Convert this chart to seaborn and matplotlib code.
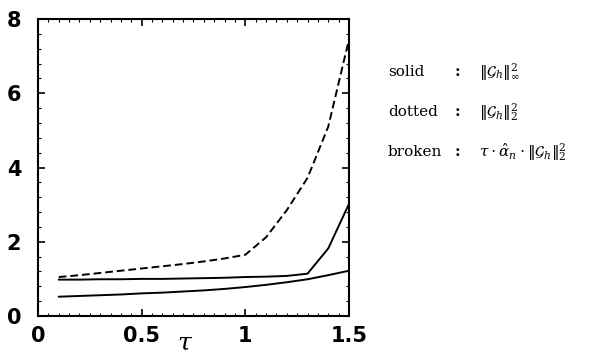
import numpy as np
import pandas as pd
import matplotlib
matplotlib.use("Agg")
import matplotlib.pyplot as plt
import seaborn as sns
from matplotlib.ticker import MultipleLocator

tau = [0.1, 0.2, 0.3, 0.4, 0.5, 0.6, 0.7, 0.8, 0.9, 1.0, 1.1, 1.2, 1.3, 1.4, 1.5]
solid_inf = [0.98, 0.98, 0.99, 0.99, 1.0, 1.0, 1.01, 1.02, 1.03, 1.05, 1.06, 1.08, 1.14, 1.82, 3.02]
dotted_l2 = [0.52, 0.54, 0.56, 0.58, 0.61, 0.63, 0.66, 0.69, 0.73, 0.78, 0.84, 0.91, 0.99, 1.1, 1.22]
broken = [1.05, 1.1, 1.16, 1.22, 1.28, 1.34, 1.4, 1.47, 1.55, 1.65, 2.12, 2.85, 3.72, 5.1, 7.45]

df = pd.DataFrame({
    "tau": tau * 3,
    "value": solid_inf + dotted_l2 + broken,
    "series": ["solid"] * len(tau) + ["dotted"] * len(tau) + ["broken"] * len(tau),
})

sns.set_theme(style="ticks")
plt.rcParams["font.family"] = ["DejaVu Sans"]
plt.rcParams["mathtext.fontset"] = "dejavuserif"

fig = plt.figure(figsize=(5.99, 3.57), dpi=100)
ax = fig.add_axes([0.0634, 0.1148, 0.5192, 0.832])

sns.lineplot(data=df, x="tau", y="value", hue="series", style="series",
             palette={"solid": "black", "dotted": "black", "broken": "black"},
             dashes={"solid": "", "dotted": "", "broken": (4, 2)},
             linewidth=1.4, legend=False, ax=ax)

ax.set_xlim(0, 1.5)
ax.set_ylim(0, 8)
ax.set_xticks([0, 0.5, 1, 1.5])
ax.set_xticklabels(["0", "0.5", "1", "1.5"])
ax.set_yticks([0, 2, 4, 6, 8])
ax.xaxis.set_minor_locator(MultipleLocator(0.05))
ax.yaxis.set_minor_locator(MultipleLocator(0.4))
ax.tick_params(which="both", direction="in", top=True, right=True, color="black",
               labelcolor="black")
ax.tick_params(which="major", length=5, width=1.2, labelsize=15)
ax.tick_params(axis="y", which="major", pad=12)
ax.tick_params(axis="x", which="major", pad=7)
for lab in ax.get_xticklabels() + ax.get_yticklabels():
    lab.set_fontweight("bold")
ax.tick_params(which="minor", length=2.5, width=0.8)
for s in ax.spines.values():
    s.set_linewidth(1.5)
    s.set_color("black")
ax.set_xlabel("")
ax.set_ylabel("")
fig.text(185 / 599, 1 - 343 / 357, r"$\tau$", fontsize=18, ha="center", va="center",
         color="black")

names = ["solid", "dotted", "broken"]
formulas = [r"$\|\mathcal{G}_h\|_\infty^2$",
            r"$\|\mathcal{G}_h\|_2^2$",
            r"$\tau\cdot\hat{\alpha}_n\cdot\|\mathcal{G}_h\|_2^2$"]
ys = [72, 112, 152]
for n, f, y in zip(names, formulas, ys):
    yf = 1 - y / 357
    fig.text(388 / 599, yf, n, family="DejaVu Serif", fontsize=11, va="center", ha="left",
             color="black")
    fig.text(455 / 599, yf, ":", family="DejaVu Serif", fontsize=11, va="center", ha="left",
             color="black", fontweight="bold")
    fig.text(479 / 599, yf, f, fontsize=11, va="center", ha="left", color="black")

fig.savefig("out.png", dpi=100)
